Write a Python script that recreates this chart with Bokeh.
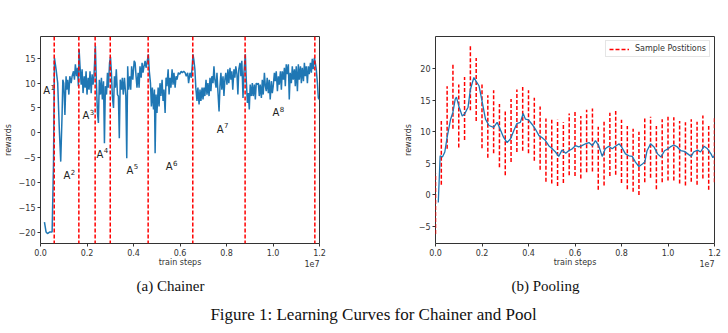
from bokeh.plotting import figure
from bokeh.layouts import column, row
from bokeh.models import (Span, FixedTicker, PrintfTickFormatter, LinearAxis,
                          CustomJSTickFormatter, Range1d)
from bokeh.core.properties import value
from bokeh.embed import file_html
from bokeh.resources import INLINE

# ---------------- data (x in units of 1e7 train steps) ----------------
chainer_x = [0.017, 0.024, 0.03, 0.039, 0.05, 0.056, 0.06, 0.067, 0.074, 0.081, 0.087, 0.093, 0.096, 0.1,
             0.105, 0.11, 0.113, 0.117, 0.122, 0.126, 0.132, 0.136, 0.142, 0.146, 0.15, 0.155, 0.159, 0.163,
             0.166, 0.17, 0.175, 0.179, 0.183, 0.188, 0.192, 0.196, 0.2, 0.205, 0.209, 0.213, 0.218, 0.222,
             0.226, 0.23, 0.236, 0.24, 0.245, 0.249, 0.253, 0.258, 0.262, 0.266, 0.271, 0.275, 0.279, 0.284,
             0.288, 0.292, 0.297, 0.301, 0.305, 0.309, 0.314, 0.318, 0.322, 0.326, 0.331, 0.335, 0.339, 0.343,
             0.348, 0.352, 0.356, 0.361, 0.367, 0.371, 0.375, 0.379, 0.384, 0.388, 0.392, 0.397, 0.403, 0.407,
             0.411, 0.415, 0.42, 0.424, 0.428, 0.433, 0.437, 0.441, 0.445, 0.45, 0.454, 0.458, 0.464, 0.468,
             0.473, 0.477, 0.481, 0.486, 0.49, 0.493, 0.497, 0.501, 0.506, 0.51, 0.514, 0.518, 0.523, 0.527,
             0.531, 0.536, 0.54, 0.544, 0.549, 0.553, 0.557, 0.561, 0.566, 0.57, 0.574, 0.579, 0.583, 0.587,
             0.593, 0.599, 0.605, 0.61, 0.616, 0.622, 0.627, 0.633, 0.637, 0.643, 0.649, 0.656, 0.66, 0.664,
             0.668, 0.673, 0.677, 0.682, 0.686, 0.69, 0.695, 0.699, 0.703, 0.707, 0.712, 0.716, 0.72, 0.725,
             0.729, 0.733, 0.737, 0.742, 0.746, 0.75, 0.755, 0.759, 0.763, 0.768, 0.772, 0.776, 0.78, 0.785,
             0.789, 0.793, 0.797, 0.802, 0.806, 0.81, 0.815, 0.819, 0.823, 0.827, 0.832, 0.836, 0.84, 0.845,
             0.849, 0.853, 0.858, 0.862, 0.866, 0.871, 0.875, 0.881, 0.885, 0.89, 0.894, 0.898, 0.902, 0.907,
             0.911, 0.915, 0.92, 0.924, 0.928, 0.933, 0.937, 0.941, 0.945, 0.95, 0.954, 0.958, 0.963, 0.967,
             0.971, 0.975, 0.98, 0.984, 0.988, 0.993, 0.997, 1.001, 1.006, 1.01, 1.014, 1.019, 1.023, 1.027,
             1.032, 1.036, 1.04, 1.045, 1.049, 1.053, 1.057, 1.062, 1.066, 1.07, 1.074, 1.079, 1.083, 1.087,
             1.092, 1.096, 1.1, 1.105, 1.109, 1.113, 1.118, 1.122, 1.126, 1.131, 1.135, 1.139, 1.143, 1.148,
             1.152, 1.156, 1.161, 1.165, 1.169, 1.173, 1.178, 1.182, 1.186, 1.191, 1.195, 1.2]
chainer_reward = [-18.0, -20.0, -20.3, -20.0, -20.0, -6.0, 15.1, 12.8, 10.0, 0.6, -5.8, 4.0, 10.7, 10.0,
                  3.6, 11.4, 8.7, 10.7, 7.7, 11.4, 10.0, 11.4, 12.4, 10.7, 13.8, 11.4, 13.1, 9.4,
                  16.8, 13.4, 9.7, 12.8, 8.0, 11.4, 9.1, 12.4, 7.7, 11.1, 8.7, 12.4, 8.0, 11.8,
                  9.7, 11.4, 17.5, 10.7, 4.0, 2.0, 10.7, 7.7, 11.1, 6.7, 10.4, -2.1, 9.4, 7.7,
                  12.1, 9.1, 14.1, 15.3, 12.1, 7.4, 5.0, 11.4, 9.1, 12.8, 7.7, 7.4, -1.1, 10.7,
                  8.7, 11.1, 7.7, 11.1, 7.4, -5.1, 13.4, 8.7, 11.4, 8.7, 13.4, 10.7, 14.5, 14.1,
                  11.4, 9.1, 12.1, 9.1, 13.4, 11.1, 14.1, 12.1, 13.4, 14.5, 13.1, 14.1, 15.8, 12.4,
                  10.0, 5.3, 9.1, 4.7, 8.7, -4.1, 7.7, 4.0, 9.1, 5.3, 10.0, 7.4, 10.7, 6.4,
                  8.7, 4.0, 11.1, 9.4, 12.8, 7.7, 11.1, 9.1, 12.8, 9.7, 12.1, 9.1, 11.4, 10.7,
                  12.1, 11.8, 12.4, 12.1, 12.4, 12.1, 11.4, 12.1, 10.0, 12.1, 11.1, 15.8, 14.5, 12.8,
                  9.1, 6.4, 9.1, 5.7, 8.7, 6.4, 9.1, 6.7, 9.1, 7.4, 10.7, 7.7, 10.0, 7.4,
                  11.1, 8.4, 11.4, 10.0, 13.4, 10.7, 9.1, 12.1, 8.4, 4.3, 9.4, 12.1, 8.7, 11.4,
                  7.4, 10.7, 12.1, 9.7, 12.8, 10.0, 13.1, 10.7, 12.4, 8.7, 12.8, 11.1, 13.4, 11.8,
                  7.7, 12.8, 14.1, 11.4, 14.5, 7.0, 12.1, 15.8, 10.7, 6.0, 8.0, 4.7, 9.7, 7.4,
                  10.0, 7.4, 9.7, 6.7, 10.0, 9.7, 10.0, 7.4, 9.7, 7.0, 10.7, 7.7, 12.1, 9.4,
                  8.4, 11.1, 8.0, 10.7, 6.7, 10.4, 8.0, 9.4, 12.1, 10.4, 12.4, 8.4, 11.4, 9.7,
                  12.4, 8.7, 12.4, 10.7, 13.1, 9.4, 13.8, 11.8, 13.8, 6.7, 12.1, 10.0, 13.4, 10.7,
                  12.8, 9.4, 13.4, 8.4, 13.8, 10.7, 13.4, 10.0, 13.1, 10.4, 14.1, 11.4, 13.4, 10.0,
                  13.4, 11.8, 14.1, 12.1, 14.9, 12.8, 15.1, 14.1, 12.8, 10.0, 7.0, 6.7]
switch_points = [0.059, 0.165, 0.235, 0.300, 0.463, 0.655, 0.880, 1.180]
phase_base = ["A", "A", "A", "A", "A", "A", "A", "A"]
phase_sup = ["1", "2", "3", "4", "5", "6", "7", "8"]
phase_label_x = [0.012, 0.099, 0.181, 0.241, 0.370, 0.539, 0.758, 0.998]
phase_label_y = [8.5, -8.7, 3.4, -4.3, -7.5, -6.8, 0.7, 4.0]

pool_x = [0.012, 0.02, 0.03, 0.04, 0.05, 0.065, 0.075, 0.085, 0.09, 0.1, 0.115, 0.125, 0.14, 0.15,
          0.165, 0.175, 0.187, 0.2, 0.215, 0.23, 0.25, 0.265, 0.275, 0.293, 0.308, 0.323, 0.337, 0.35,
          0.365, 0.377, 0.387, 0.4, 0.415, 0.43, 0.445, 0.458, 0.473, 0.487, 0.5, 0.516, 0.53, 0.544,
          0.56, 0.573, 0.588, 0.602, 0.616, 0.63, 0.645, 0.66, 0.675, 0.688, 0.702, 0.717, 0.73, 0.745,
          0.76, 0.774, 0.79, 0.8, 0.817, 0.832, 0.846, 0.86, 0.875, 0.89, 0.9, 0.91, 0.925, 0.94,
          0.955, 0.97, 0.985, 1.0, 1.01, 1.025, 1.04, 1.055, 1.07, 1.085, 1.1, 1.11, 1.127, 1.14,
          1.155, 1.17, 1.185, 1.193, 1.2]
pool_reward = [-1.2, 6.2, 6.0, 6.8, 9.1, 12.0, 13.1, 15.2, 15.5, 14.1, 12.5, 12.8, 13.9, 16.7,
               18.6, 18.0, 17.3, 14.9, 12.0, 11.0, 10.7, 11.5, 10.7, 9.1, 8.3, 8.9, 10.2, 11.3,
               11.5, 12.9, 12.0, 11.9, 11.2, 10.4, 9.4, 9.1, 8.6, 7.8, 7.4, 6.8, 6.1, 7.1,
               6.6, 7.0, 7.3, 7.8, 7.6, 7.8, 8.1, 8.3, 7.8, 8.6, 7.8, 6.1, 7.3, 7.7,
               7.3, 7.7, 8.1, 7.6, 6.5, 6.2, 6.1, 5.2, 4.5, 4.9, 5.2, 7.0, 8.1, 7.6,
               6.5, 6.0, 7.0, 7.3, 7.6, 7.9, 7.6, 7.0, 6.9, 6.5, 6.1, 6.8, 7.1, 6.8,
               7.7, 7.3, 6.5, 5.9, 6.2]
sample_x = [0.0, 0.025, 0.05, 0.075, 0.1, 0.125, 0.15, 0.175, 0.2, 0.225, 0.25, 0.275, 0.3, 0.325,
            0.35, 0.375, 0.4, 0.425, 0.45, 0.475, 0.5, 0.525, 0.55, 0.575, 0.6, 0.625, 0.65, 0.675,
            0.7, 0.725, 0.75, 0.775, 0.8, 0.825, 0.85, 0.875, 0.9, 0.925, 0.95, 0.975, 1.0, 1.025,
            1.05, 1.075, 1.1, 1.125, 1.15, 1.175, 1.2]
sample_low = [-6.2, 1.6, 7.3, 10.5, 7.5, 8.7, 13.4, 11.7, 7.4, 5.9, 6.6, 4.4, 3.1, 5.2,
              6.8, 7.0, 6.6, 5.4, 4.0, 2.1, 1.8, 1.4, 1.9, 3.1, 3.0, 2.6, 3.6, 3.7,
              0.8, 1.5, 3.0, 3.2, 1.9, 0.9, 0.5, 0.0, 2.0, 2.7, 0.9, 2.0, 2.3, 2.3,
              1.8, 1.5, 2.1, 1.6, 2.6, 0.8, 2.0]
sample_high = [3.4, 11.7, 17.2, 20.7, 17.5, 18.7, 23.6, 21.7, 17.5, 15.8, 16.6, 14.4, 13.2, 15.2,
               16.7, 17.1, 16.6, 15.4, 14.0, 12.1, 11.9, 11.9, 11.5, 12.9, 13.2, 12.5, 13.5, 13.7,
               10.8, 11.6, 13.0, 13.3, 11.9, 10.9, 10.5, 10.0, 12.1, 12.4, 10.9, 12.0, 12.4, 12.3,
               11.7, 11.5, 12.0, 11.6, 12.6, 10.9, 12.3]
x_ticks = [0.0, 0.2, 0.4, 0.6, 0.8, 1.0, 1.2]
chainer_y_ticks = [-20, -15, -10, -5, 0, 5, 10, 15]
pool_y_ticks = [-5, 0, 5, 10, 15, 20]
offset_text = "1e7"

BLUE = "#1f77b4"
TICK_FONT = "8px"
TXT = "#333333"
MINUS_FMT = CustomJSTickFormatter(code="return tick < 0 ? '\\u2212' + Math.abs(tick) : String(tick);")


def style(p, yticks):
    p.xgrid.visible = False
    p.ygrid.visible = False
    p.outline_line_color = "#333333"
    p.outline_line_width = 1
    p.background_fill_color = "white"
    p.border_fill_color = "white"
    # second (outer) x axis: carries the "1e7" offset text and the axis title
    ax2 = LinearAxis(ticker=FixedTicker(ticks=[1.168]), major_label_overrides={1.168: offset_text},
                     axis_label="train steps")
    p.add_layout(ax2, "below")
    for ax in (p.xaxis[0], p.yaxis[0], ax2):
        ax.axis_line_color = None
        ax.major_tick_line_color = "#333333"
        ax.major_tick_out = 3
        ax.major_tick_in = 0
        ax.minor_tick_line_color = None
        ax.major_label_text_font = "DejaVu Sans"
        ax.major_label_text_font_size = TICK_FONT
        ax.major_label_text_color = TXT
        ax.axis_label_text_font = "DejaVu Sans"
        ax.axis_label_text_font_size = TICK_FONT
        ax.axis_label_text_font_style = "normal"
        ax.axis_label_text_color = TXT
        ax.major_label_standoff = 2
        ax.axis_label_standoff = 3
    ax2.major_tick_line_color = None
    ax2.major_tick_out = 0
    ax2.major_label_standoff = 1
    ax2.axis_label_standoff = -12
    p.xaxis[0].ticker = FixedTicker(ticks=x_ticks)
    p.xaxis[0].formatter = PrintfTickFormatter(format="%.1f")
    p.yaxis[0].ticker = FixedTicker(ticks=yticks)
    p.yaxis[0].formatter = MINUS_FMT
    p.yaxis[0].axis_label = "rewards"


# ---------------- (a) Chainer ----------------
p1 = figure(frame_width=279, frame_height=207, min_border_left=38, min_border_right=63,
            min_border_top=36, min_border_bottom=29, x_range=Range1d(0, 1.2), y_range=Range1d(-22.3, 19.4),
            output_backend="svg", toolbar_location=None)
style(p1, chainer_y_ticks)
p1.line(chainer_x, chainer_reward, line_color=BLUE, line_width=1.5)
for sp in switch_points:
    p1.add_layout(Span(location=sp, dimension="height", line_color="#ff0000", line_width=1.5,
                       line_dash="4 2"))
p1.text(x=phase_label_x, y=phase_label_y, text=phase_base, text_font=value("DejaVu Sans"),
        text_font_size="10px", text_color="#222222", text_align="left", text_baseline="middle")
p1.text(x=phase_label_x, y=phase_label_y, text=phase_sup, text_font=value("DejaVu Sans"),
        text_font_size="7px", text_color="#222222", text_align="left", text_baseline="middle",
        x_offset=7.2, y_offset=-4)

# ---------------- (b) Pooling ----------------
p2 = figure(frame_width=279, frame_height=207, min_border_left=53, min_border_right=16,
            min_border_top=36, min_border_bottom=29, x_range=Range1d(0, 1.2), y_range=Range1d(-7.7, 25.1),
            output_backend="svg", toolbar_location=None)
style(p2, pool_y_ticks)
p2.segment(x0=sample_x, y0=sample_low, x1=sample_x, y1=sample_high, line_color="#ff0000",
           line_width=1.5, line_dash="4 2", legend_label="Sample Postitions")
p2.line(pool_x, pool_reward, line_color=BLUE, line_width=1.3)
lg = p2.legend[0]
lg.location = "top_right"
lg.label_text_font = "DejaVu Sans"
lg.label_text_font_size = "8px"
lg.label_text_color = TXT
lg.label_height = 8
lg.glyph_height = 8
lg.glyph_width = 20
lg.label_standoff = 6
lg.padding = 3
lg.margin = 4
lg.spacing = 0
lg.border_line_color = "#cccccc"
lg.background_fill_alpha = 0.9

# ---------------- captions ----------------
cap_text = ["(a) Chainer", "(b) Pooling", "Figure 1: Learning Curves for Chainer and Pool"]
cap_x = [170, 545, 373]
cap_y = [13, 13, 42]
cap_size = ["15px", "15px", "17px"]
pc = figure(width=728, height=61, x_range=Range1d(0, 728), y_range=Range1d(61, 0),
            output_backend="svg", toolbar_location=None, min_border=0)
pc.axis.visible = False
pc.grid.visible = False
pc.outline_line_color = None
pc.text(x=cap_x, y=cap_y, text=cap_text, text_font=value("Liberation Serif"), text_font_size=cap_size,
        text_color="#111111", text_align="center", text_baseline="middle")

layout = column(row(p1, p2, spacing=0), pc, spacing=0)
open("out.html", "w").write(file_html(layout, INLINE))
